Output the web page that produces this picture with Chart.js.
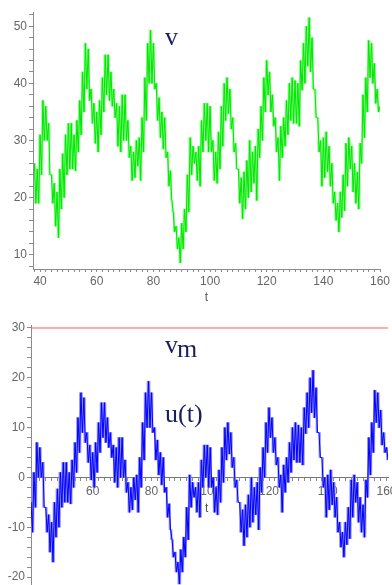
<!DOCTYPE html>
<html>
<head>
<meta charset="utf-8">
<script src="https://cdn.jsdelivr.net/npm/chart.js@4.4.1/dist/chart.umd.min.js"></script>
<style>
    html, body { margin: 0; padding: 0; background: #fff; }
    body { width: 392px; height: 585px; position: relative; overflow: hidden; }
    canvas { position: absolute; left: 0; }
    #graficoV { top: 0; }
    #graficoU { top: 300px; }
</style>
</head>
<body>
<canvas id="graficoV" width="392" height="305"></canvas>
<canvas id="graficoU" width="392" height="285"></canvas>
<script>
// Gráficos v(t) y u(t) = v(t) - vm
(function () {
    'use strict';

    // Muestras a t = 38, 39, ..., 160 (envolvente alta y baja de la oscilación rápida)
    var tInicio = 38;
    var vAlto = [
        26, 25, 31, 37, 36, 33, 24, 22.5, 21, 25,
        27.7, 31, 33, 33, 31, 33.5, 37, 42, 47, 46,
        39, 36.5, 35, 37, 41, 45, 45, 42, 39, 36.5,
        36, 38, 38, 33.5, 29, 28, 30, 30.5, 34, 41,
        47, 49.3, 47, 40, 37.5, 35, 34, 28, 24.7, 17.5,
        15, 13, 15.5, 18, 24, 30.5, 29, 28, 29, 33.5,
        36.5, 36.5, 36, 30, 28, 31.5, 36, 40, 41, 39,
        34, 29.5, 25, 23.5, 24.5, 26.5, 30, 28, 29, 32,
        36, 41, 44, 42, 38, 34, 30.5, 32.5, 34, 37,
        40, 41, 40.5, 40, 44, 47, 50, 51.5, 48, 39,
        34, 30, 30.5, 31.5, 29, 26, 21, 19, 21, 24,
        29.5, 30.5, 29, 26, 24.5, 29.5, 38, 41, 47.5, 47,
        43.5, 39, 36
    ];
    var vBajo = [
        19, 19, 24, 30, 30, 24, 19, 15, 13, 18,
        20, 24, 25, 25, 24.7, 28, 31, 35, 39, 37,
        33, 29.5, 28, 31, 35, 38, 37, 36, 34, 29,
        28, 30, 30, 27, 23, 23.5, 25.5, 23, 28, 33.5,
        40, 40, 39, 33.5, 30.5, 28.5, 27, 22, 19.5, 14,
        11, 8.6, 11, 14, 17.5, 24, 26, 23, 22, 28,
        30, 28, 28, 23, 22.5, 25, 29, 33.5, 34.7, 32,
        28, 25, 19, 16.3, 18, 20, 21, 22.5, 19.5, 27,
        30, 35, 38, 35, 32.5, 28, 23, 27, 29, 31,
        33.5, 33, 33, 32.5, 38.8, 40, 43, 42, 39, 34,
        28, 22, 23.5, 24.5, 22, 19, 16, 14, 16.5, 17.7,
        22, 25, 21, 19, 18, 26, 30.5, 35, 41, 40,
        36.5, 35, 33.5
    ];
    var vm = 30;
    var etiquetasX = [40, 60, 80, 100, 120, 140, 160];
    var etiquetasXu = [60, 80, 100, 120, 140, 160];
    var etiquetasV = [10, 20, 30, 40, 50];
    var etiquetasU = [-20, -10, 0, 10, 20, 30];

    var tiempos = vAlto.map(function (_, i) { return tInicio + i; });
    var uAlto = vAlto.map(function (v) { return v - vm; });
    var uBajo = vBajo.map(function (v) { return v - vm; });

    // Línea en zigzag entre envolvente alta (t) y baja (t + 0.5)
    function zigzag(alto, bajo) {
        var puntos = [];
        tiempos.forEach(function (t, i) {
            puntos.push({ x: t, y: alto[i] });
            puntos.push({ x: t + 0.5, y: bajo[i] });
        });
        return puntos;
    }
    // Banda clara: una barra flotante bajo cada tramo del zigzag
    function banda(alto, bajo) {
        var barras = [];
        tiempos.forEach(function (t, i) {
            barras.push({ x: t + 0.25, y: [bajo[i], alto[i]] });
            if (i + 1 < tiempos.length) {
                barras.push({ x: t + 0.75, y: [bajo[i], alto[i + 1]] });
            }
        });
        return barras;
    }
    function marcas(desde, hasta, paso) {
        var m = [];
        for (var x = desde; x <= hasta + 1e-9; x += paso) m.push(x);
        return m;
    }

    var fuenteEjes = { family: "'Liberation Sans', Arial, sans-serif", size: 12 };
    var colorEje = '#8c8c8c';

    function eje(opc) {
        return {
            type: 'linear',
            position: opc.position,
            min: opc.min,
            max: opc.max,
            offset: false,
            border: { color: opc.borde || colorEje, width: 1 },
            grid: { drawOnChartArea: false, drawTicks: true, tickLength: opc.tick || 3, tickColor: colorEje, offset: false },
            ticks: {
                autoSkip: false, maxRotation: 0, minRotation: 0,
                padding: opc.padding, color: '#666', font: fuenteEjes,
                callback: function (v) { return opc.etiquetas.indexOf(v) >= 0 ? String(v) : ''; }
            },
            title: opc.title || { display: false },
            afterBuildTicks: function (s) {
                s.ticks = opc.marcas.map(function (v) { return { value: v }; });
            },
            afterFit: function (s) {
                if (opc.width) s.width = opc.width;
                if (opc.height) s.height = opc.height;
                s.paddingLeft = s.paddingRight = s.paddingTop = s.paddingBottom = 0;
            }
        };
    }

    // Textos libres (rótulos en serif dentro del área)
    var textoLibre = {
        id: 'textoLibre',
        afterDraw: function (chart, args, opts) {
            var ctx = chart.ctx;
            (opts.items || []).forEach(function (it) {
                ctx.save();
                ctx.font = it.font;
                ctx.fillStyle = it.color;
                ctx.textBaseline = 'alphabetic';
                ctx.fillText(it.text, it.x, it.y);
                ctx.restore();
            });
        }
    };
    var serif = "26px 'Liberation Serif', 'Times New Roman', serif";
    var tinta = '#1d1d5e';

    function linea(datos, color, ancho) {
        return { type: 'line', data: datos, borderColor: color, borderWidth: ancho, pointRadius: 0, tension: 0, fill: false, order: 0 };
    }
    function barras(datos, color) {
        return {
            type: 'bar', data: datos, backgroundColor: color, borderWidth: 0,
            barPercentage: 1, categoryPercentage: 1, grouped: false, order: 1
        };
    }

    // ---- Gráfico superior: v ----
    new Chart(document.getElementById('graficoV'), {
        type: 'line',
        data: {
            datasets: [
                linea(zigzag(vAlto, vBajo), '#00e600', 1),
                barras(banda(vAlto, vBajo), '#8cff8c')
            ]
        },
        options: {
            responsive: false,
            animation: false,
            devicePixelRatio: 1,
            layout: { padding: { top: 12, right: 12, left: 0, bottom: 0 } },
            plugins: {
                legend: { display: false },
                tooltip: { enabled: false },
                textoLibre: { items: [{ text: 'v', x: 165, y: 45, font: serif, color: tinta }] }
            },
            scales: {
                x: eje({
                    position: 'bottom', min: 37.5, max: 160, padding: 2, height: 36,
                    marcas: marcas(38, 160, 2), etiquetas: etiquetasX,
                    title: { display: true, text: 't', color: '#555', font: fuenteEjes, padding: { top: 0, bottom: 0 } }
                }),
                y: eje({
                    position: 'left', min: 7.5, max: 52.5, padding: 2, tick: 4, width: 33,
                    marcas: marcas(8, 52, 2), etiquetas: etiquetasV
                })
            }
        },
        plugins: [textoLibre]
    });

    // ---- Gráfico inferior: vm y u(t) ----
    new Chart(document.getElementById('graficoU'), {
        type: 'line',
        data: {
            datasets: [
                linea([{ x: 39, y: vm }, { x: 160.5, y: vm }], '#ff5a5a', 1),
                linea(zigzag(uAlto, uBajo), '#0000ff', 1),
                barras(banda(uAlto, uBajo), '#8585ff')
            ]
        },
        options: {
            responsive: false,
            animation: false,
            devicePixelRatio: 1,
            layout: { padding: { top: 25, right: 4, left: 0, bottom: 0 } },
            plugins: {
                legend: { display: false },
                tooltip: { enabled: false },
                textoLibre: {
                    items: [
                        { text: 'v', x: 165, y: 53, font: serif, color: tinta },
                        { text: 'm', x: 177, y: 57, font: serif, color: tinta },
                        { text: 'u(t)', x: 165, y: 122, font: serif, color: tinta },
                        { text: 't', x: 205, y: 212, font: "12px 'Liberation Sans', Arial, sans-serif", color: '#555' }
                    ]
                }
            },
            scales: {
                x: eje({
                    position: { y: 0 }, min: 39, max: 160.5, padding: 4, borde: '#777',
                    marcas: marcas(40, 160, 2), etiquetas: etiquetasXu
                }),
                y: eje({
                    position: 'left', min: -21.6, max: 30.6, padding: 2, tick: 4, width: 31,
                    marcas: marcas(-20, 30, 2), etiquetas: etiquetasU
                })
            }
        },
        plugins: [textoLibre]
    });
})();
</script>
</body>
</html>
